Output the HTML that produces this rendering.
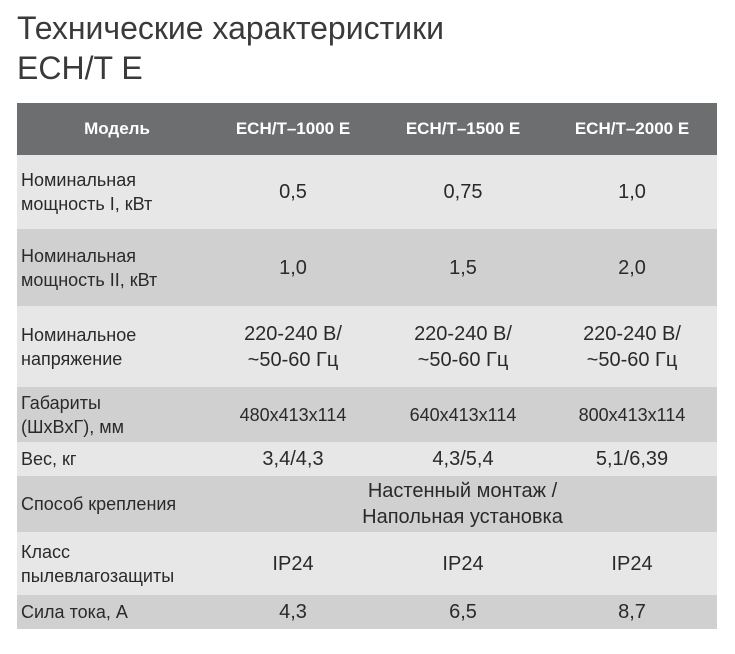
<!DOCTYPE html>
<html><head><meta charset="utf-8"><style>
body{margin:0;width:735px;height:654px;background:#fff;font-family:"Liberation Sans",sans-serif;color:#2a2a2a;position:relative;overflow:hidden}
.t{position:absolute;left:17px;font-size:32px;color:#3a3a3a;line-height:38px}
.r{position:absolute;left:17px;width:700px}
.c{position:absolute;top:0;bottom:0;display:flex;align-items:center;font-size:18px;line-height:24px}
.l{left:4px;width:200px}
.v{justify-content:center;text-align:center;width:170px;font-size:20px;line-height:26px}
.a{left:191px}.b{left:361px}.d{left:530px}
.h .c{color:#fff;font-weight:bold;font-size:17px}
.L{background:#e7e7e8}.D{background:#d0d0d1}
</style></head><body>
<div class="t" style="top:9px">Технические характеристики</div>
<div class="t" style="top:49px">ECH/T E</div>

<div class="r h" style="top:103px;height:52px;background:#6d6e70">
<div class="c v" style="left:0;width:200px">Модель</div>
<div class="c v a">ECH/T–1000 E</div><div class="c v b">ECH/T–1500 E</div><div class="c v d">ECH/T–2000 E</div></div>

<div class="r L" style="top:155px;height:74px">
<div class="c l">Номинальная<br>мощность I, кВт</div>
<div class="c v a">0,5</div><div class="c v b">0,75</div><div class="c v d">1,0</div></div>

<div class="r D" style="top:229px;height:77px">
<div class="c l">Номинальная<br>мощность II, кВт</div>
<div class="c v a">1,0</div><div class="c v b">1,5</div><div class="c v d">2,0</div></div>

<div class="r L" style="top:306px;height:81px">
<div class="c l">Номинальное<br>напряжение</div>
<div class="c v a">220-240 В/<br>~50-60 Гц</div><div class="c v b">220-240 В/<br>~50-60 Гц</div><div class="c v d">220-240 В/<br>~50-60 Гц</div></div>

<div class="r D" style="top:387px;height:55px">
<div class="c l">Габариты<br>(ШxВxГ), мм</div>
<div class="c v a" style="font-size:18px">480x413x114</div><div class="c v b" style="font-size:18px">640x413x114</div><div class="c v d" style="font-size:18px">800x413x114</div></div>

<div class="r L" style="top:442px;height:34px">
<div class="c l">Вес, кг</div>
<div class="c v a">3,4/4,3</div><div class="c v b">4,3/5,4</div><div class="c v d">5,1/6,39</div></div>

<div class="r D" style="top:476px;height:56px">
<div class="c l">Способ крепления</div>
<div class="c v" style="left:191px;width:509px">Настенный монтаж /<br>Напольная установка</div></div>

<div class="r L" style="top:532px;height:63px">
<div class="c l">Класс<br>пылевлагозащиты</div>
<div class="c v a">IP24</div><div class="c v b">IP24</div><div class="c v d">IP24</div></div>

<div class="r D" style="top:595px;height:34px">
<div class="c l">Сила тока, А</div>
<div class="c v a">4,3</div><div class="c v b">6,5</div><div class="c v d">8,7</div></div>
</body></html>
